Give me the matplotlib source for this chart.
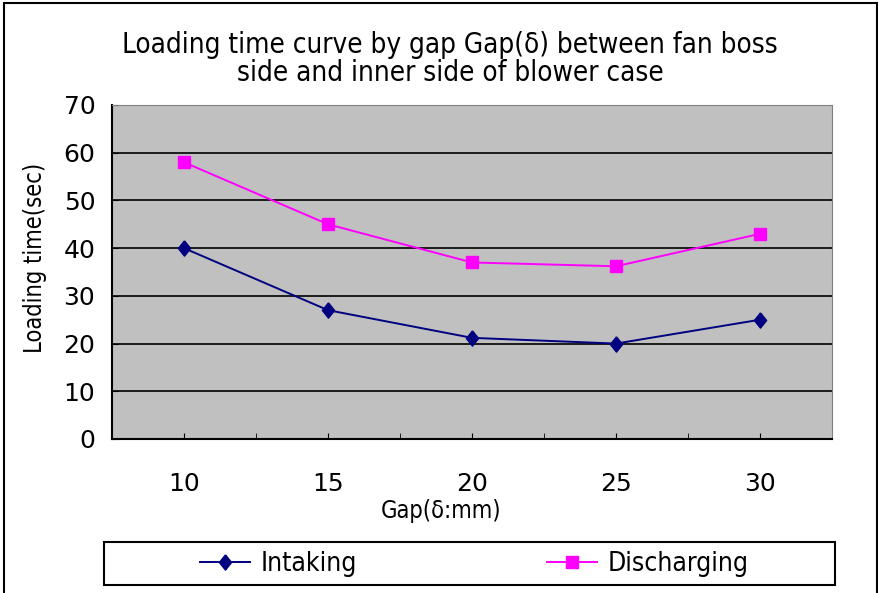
import numpy as np
import matplotlib.pyplot as plt
from matplotlib.patches import Rectangle

gaps = ['10', '15', '20', '25', '30']
intaking = [40, 27, 21.2, 20, 25]
discharging = [58, 45, 37, 36.2, 43]
yticks = [0, 10, 20, 30, 40, 50, 60, 70]

plt.rcParams['font.family'] = ['DejaVu Sans']
plt.rcParams['font.stretch'] = 'condensed'

fig = plt.figure(figsize=(8.79, 5.93), dpi=100)
ax = fig.add_axes([112/879, 1-439/593, 720/879, 334/593])
ax.set_facecolor('#C0C0C0')

# diamond a bit wider than the built-in thin one
diamond = [(0, 1), (0.8, 0), (0, -1), (-0.8, 0), (0, 1)]

x = np.arange(len(gaps))
ax.plot(x, intaking, color='#000080', marker=diamond, markersize=11, lw=1.4, label='Intaking')
ax.plot(x, discharging, color='#FF00FF', marker='s', markersize=9, lw=1.4, label='Discharging')

ax.set_xlim(-0.5, len(gaps) - 0.5)
ax.set_ylim(0, 70)
ax.set_yticks(yticks)
ax.set_xticks(x)
ax.set_xticklabels(gaps)
ax.set_xticks(np.arange(-0.5, len(gaps)), minor=True)
ax.tick_params(axis='x', which='major', length=4, direction='in', labelsize=18, pad=24)
ax.tick_params(axis='x', which='minor', length=4, direction='in', color='black')
ax.tick_params(axis='y', length=4, direction='in', labelsize=18, pad=12)
for lab in ax.get_xticklabels() + ax.get_yticklabels():
    lab.set_fontstretch('normal')
ax.yaxis.grid(True, color='black', lw=1.2)
ax.set_axisbelow(True)
for s in ['top', 'right']:
    ax.spines[s].set_color('#808080')
for s in ['left', 'bottom']:
    ax.spines[s].set_color('black')
    ax.spines[s].set_linewidth(1.5)

ax.set_xlabel('Gap(δ:mm)', fontsize=17)
ax.xaxis.set_label_coords((441 - 112) / 720, -(511 - 439) / 334)
ax.xaxis.label.set_va('center')
ax.set_ylabel('Loading time(sec)', fontsize=17)
ax.yaxis.set_label_coords(-(112 - 35) / 720, (439 - 258) / 334)
ax.yaxis.label.set_va('center')

fig.text(450/879, 1-59/593, 'Loading time curve by gap Gap(δ) between fan boss\nside and inner side of blower case',
         ha='center', va='center', fontsize=20, linespacing=0.98)

leg = fig.legend(loc='center', bbox_to_anchor=(474/879, 1-564/593), ncol=2, fontsize=19,
                 frameon=False, columnspacing=7.2, handlelength=1.9, handletextpad=0.4)
fig.patches.append(Rectangle((104/879, 1-585/593), 731/879, 43/593, transform=fig.transFigure,
                             fill=False, edgecolor='black', lw=1.5))

fig.patches.append(Rectangle((4/879, -0.01), 873/879, 1.005, transform=fig.transFigure,
                             fill=False, edgecolor='black', lw=1.5))

fig.savefig('out.png', dpi=100)
